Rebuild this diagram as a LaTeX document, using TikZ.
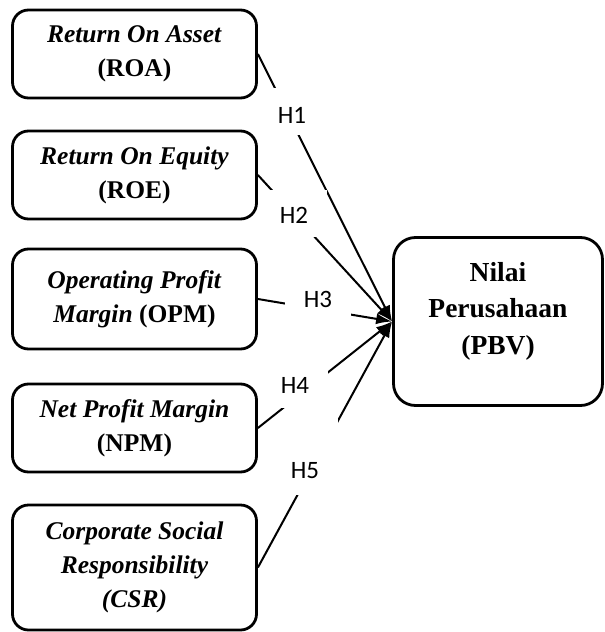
\documentclass[tikz,border=0pt]{standalone}
\usepackage{fontspec}
\setmainfont{Liberation Serif}
\newfontfamily\labelfont{Carlito}
\usetikzlibrary{arrows.meta}
\begin{document}
\begin{tikzpicture}[x=1pt,y=-1pt,
  varbox/.style={draw, line width=2.8pt, rounded corners=16pt, minimum width=244pt,
    inner sep=0pt, align=center, font=\fontsize{25.5}{34}\selectfont\bfseries},
  mainbox/.style={draw, line width=2.8pt, rounded corners=22pt, minimum width=209pt,
    minimum height=168pt, inner sep=0pt},
  maintext/.style={align=center, inner sep=0pt, font=\fontsize{27.5}{36.5}\selectfont\bfseries},
  conn/.style={line width=2pt, -{Latex[length=16pt,width=11pt]}},
  hlabel/.style={fill=white, inner sep=0pt, minimum width=66pt,
    font=\labelfont\fontsize{25}{25}\selectfont}
]
\useasboundingbox (0,0) rectangle (605,632);

\node[varbox, minimum height=88pt] (roa) at (134.5,54) {\textit{Return On Asset}\\(ROA)};
\node[varbox, minimum height=88pt] (roe) at (134.5,175) {\textit{Return On Equity}\\(ROE)};
\node[varbox, minimum height=100pt] (opm) at (134.5,299) {\textit{Operating Profit}\\\textit{Margin} (OPM)};
\node[varbox, minimum height=88pt] (npm) at (134.5,428) {\textit{Net Profit Margin}\\(NPM)};
\node[varbox, minimum height=125pt] (csr) at (134.5,567.5) {\textit{Corporate Social}\\\textit{Responsibility}\\\textit{(CSR)}};

\node[mainbox] (pbv) at (498,321.5) {};
\node[maintext] (pbvtext) at (498,311) {Nilai\\Perusahaan\\(PBV)};

\draw[conn] (roa.east) -- (pbv.west);
\draw[conn] (roe.east) -- (pbv.west);
\draw[conn] (opm.east) -- (pbv.west);
\draw[conn] (npm.east) -- (pbv.west);
\draw[conn] (csr.east) -- (pbv.west);

\node[hlabel, text height=35pt, text depth=12pt] (h1) at (292,111.5) {H1};
\node[hlabel, text height=33pt, text depth=14pt] (h2) at (294,213.5) {H2};
\node[hlabel, text height=29pt, text depth=15pt] (h3) at (318,300) {H3};
\node[hlabel, text height=29pt, text depth=15pt] (h4) at (295,386) {H4};
\node[hlabel, text height=60pt, text depth=17pt] (h5) at (305,456.5) {H5};
\end{tikzpicture}
\end{document}
